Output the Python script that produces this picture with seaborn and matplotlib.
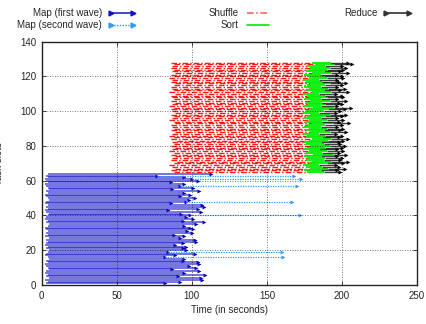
import numpy as np
import pandas as pd
import matplotlib
matplotlib.use("Agg")
import matplotlib.pyplot as plt
from matplotlib.lines import Line2D
import seaborn as sns

# map slots 1..64 (bottom to top): first wave start / end
map_start = [3, 4, 2, 5, 3, 4, 2, 3, 5, 4,
             3, 2, 4, 3, 5, 4, 2, 3, 4, 5,
             3, 4, 2, 3, 4, 3, 5, 2, 4, 3,
             4, 3, 2, 4, 5, 3, 4, 2, 3, 4,
             5, 3, 2, 4, 3, 4, 2, 3, 5, 4,
             3, 2, 4, 3, 5, 4, 3, 2, 4, 3,
             2, 4, 3, 4]
map_end = [82, 92, 107, 106, 91, 109, 95, 105, 87, 103,
           98, 105, 104, 94, 95, 82, 89, 102, 84, 96,
           94, 96, 89, 94, 103, 102, 92, 95, 88, 100,
           97, 101, 99, 95, 103, 108, 94, 101, 96, 99,
           93, 106, 84, 104, 108, 107, 86, 96, 98, 102,
           92, 99, 95, 105, 87, 101, 92, 95, 86, 104,
           100, 95, 77, 113]

# second wave maps
wave2_slot = [63, 61, 57, 48, 40, 19, 16]
wave2_end = [168, 173, 170, 167, 172, 160, 161]

# reduce slots 65..128
shuffle_start = [88, 86, 89, 87, 85, 88, 90, 86, 87, 89,
                 86, 88, 85, 87, 89, 86, 88, 87, 90, 86,
                 88, 85, 87, 89, 86, 88, 87, 86, 89, 88,
                 85, 87, 88, 86, 89, 87, 86, 88, 85, 87,
                 89, 86, 88, 87, 86, 89, 85, 88, 87, 86,
                 88, 89, 86, 87, 85, 88, 86, 89, 87, 88,
                 86, 87, 88, 86]
sort_start = [177, 175, 179, 176, 174, 178, 180, 176, 177, 175,
              181, 176, 178, 174, 177, 179, 176, 175, 178, 180,
              176, 177, 174, 179, 176, 178, 175, 177, 180, 176,
              178, 175, 177, 179, 174, 176, 178, 181, 175, 177,
              176, 179, 175, 178, 177, 174, 180, 176, 178, 175,
              177, 179, 176, 174, 178, 177, 175, 180, 176, 178,
              179, 177, 182, 180]
reduce_start = [188, 186, 191, 187, 185, 190, 193, 188, 189, 186,
                194, 187, 190, 185, 189, 192, 188, 186, 191, 193,
                187, 189, 185, 192, 188, 190, 186, 189, 194, 187,
                190, 186, 189, 192, 185, 188, 191, 195, 186, 189,
                187, 192, 186, 190, 189, 185, 193, 188, 191, 186,
                189, 192, 187, 185, 190, 189, 186, 193, 188, 190,
                192, 189, 195, 193]
reduce_end = [199, 197, 202, 198, 196, 201, 204, 199, 200, 197,
              203, 198, 201, 197, 200, 202, 199, 198, 201, 204,
              198, 200, 196, 203, 199, 201, 197, 200, 205, 198,
              201, 197, 200, 203, 196, 199, 202, 206, 197, 200,
              198, 203, 197, 201, 200, 196, 204, 199, 202, 197,
              200, 203, 198, 197, 201, 200, 197, 204, 199, 201,
              203, 200, 207, 204]

maps = pd.DataFrame({"slot": np.arange(1, 65), "start": map_start, "end": map_end})
wave2 = pd.DataFrame({"slot": wave2_slot, "end": wave2_end})
wave2["start"] = [map_end[s - 1] for s in wave2_slot]
reds = pd.DataFrame({"slot": np.arange(65, 129), "shuffle": shuffle_start,
                     "sort": sort_start, "reduce": reduce_start, "end": reduce_end})

sns.set_theme(style="ticks")
plt.rcParams["font.family"] = ["Liberation Sans", "DejaVu Sans"]
plt.rcParams["font.size"] = 7

c_map1, c_map2 = "#1414c8", "#3399ff"
fig = plt.figure(figsize=(4.27, 3.24), dpi=100)
ax = fig.add_axes([0.0977, 0.1204, 0.8789, 0.7509])

ax.hlines(maps["slot"], maps["start"], maps["end"], color=c_map1, lw=1.1, alpha=0.75)
sns.scatterplot(data=maps, x="end", y="slot", marker=">", s=8, color="#0000aa",
                linewidth=0, ax=ax, legend=False)
ax.hlines(wave2["slot"], wave2["start"], wave2["end"], color=c_map2, lw=0.9, linestyles=(0, (1, 1)))
sns.scatterplot(data=wave2, x="end", y="slot", marker=">", s=8, color=c_map2,
                linewidth=0, ax=ax, legend=False)

ax.hlines(reds["slot"], reds["shuffle"], reds["sort"], color="red", lw=1.0, alpha=0.9,
          linestyles=(0, (4, 1.5, 1, 1.5)))
ax.hlines(reds["slot"], reds["sort"], reds["reduce"], color="#00ee00", lw=1.3)
ax.hlines(reds["slot"], reds["reduce"], reds["end"], color="black", lw=1.0, alpha=0.75)
sns.scatterplot(data=reds, x="end", y="slot", marker=">", s=8, color="black",
                linewidth=0, ax=ax, legend=False)

ax.set_xlim(0, 250)
ax.set_ylim(0, 140)
ax.set_xticks(range(0, 251, 50))
ax.set_yticks(range(0, 141, 20))
ax.grid(True, color="black", ls=(0, (1, 2)), lw=0.6, alpha=0.7)
ax.set_axisbelow(False)
ax.tick_params(direction="in", top=True, right=True, labelsize=7, length=3, width=0.6, pad=4)
for sp in ax.spines.values():
    sp.set_linewidth(1.0)
ax.set_xlabel("Time (in seconds)", fontsize=7, labelpad=3)
ax.set_ylabel("Task slots", fontsize=7)
ax.yaxis.set_label_coords(-0.1, 0.5)

handles = [
    Line2D([], [], color=c_map1, lw=1.1, marker=">", markersize=3.5, markevery=[1]),
    Line2D([], [], color=c_map2, lw=1.0, ls=(0, (1, 1)), marker=">", markersize=3.5, markevery=[1]),
    Line2D([], [], color="#ff6666", lw=1.2, ls=(0, (4, 1.5, 1, 1.5))),
    Line2D([], [], color="#00ee00", lw=1.2),
    Line2D([], [], color="#333333", lw=1.2, marker=">", markersize=3.5, markevery=[1]),
]
labels = ["Map (first wave)", "Map (second wave)", "Shuffle", "Sort", "Reduce"]
fig.legend(handles, labels, loc="upper right", bbox_to_anchor=(0.98, 0.995), ncol=3,
           frameon=False, markerfirst=False, numpoints=2, fontsize=7, handlelength=2.9,
           handletextpad=0.6, columnspacing=7.4, labelspacing=0.2, borderpad=0.2)

fig.savefig("out.png", dpi=100)
